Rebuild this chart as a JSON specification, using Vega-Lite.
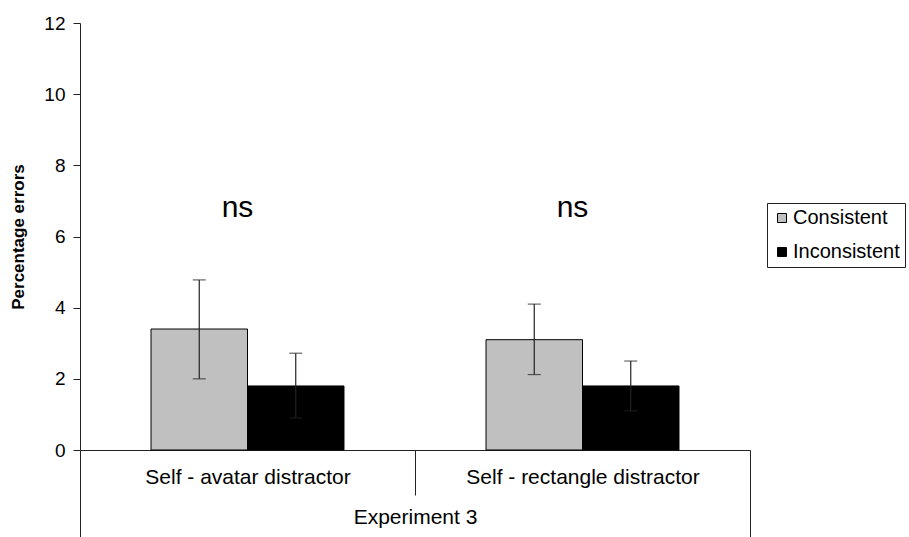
{
  "$schema": "https://vega.github.io/schema/vega-lite/v6.json",
  "autosize": "none",
  "width": 670,
  "height": 427,
  "padding": {"left": 80, "top": 23, "right": 159, "bottom": 87},
  "config": {
    "font": "Liberation Sans",
    "view": {"stroke": null},
    "axis": {"labelColor": "black", "titleColor": "black", "domainColor": "#222", "tickColor": "#222", "grid": false}
  },
  "datasets": {
    "bars": [
      {"group": "Self - avatar distractor", "cond": "Consistent", "value": 3.4, "lo": 2.0, "hi": 4.78},
      {"group": "Self - avatar distractor", "cond": "Inconsistent", "value": 1.8, "lo": 0.9, "hi": 2.72},
      {"group": "Self - rectangle distractor", "cond": "Consistent", "value": 3.1, "lo": 2.12, "hi": 4.1},
      {"group": "Self - rectangle distractor", "cond": "Inconsistent", "value": 1.8, "lo": 1.1, "hi": 2.5}
    ],
    "notes": [
      {"group": "Self - avatar distractor", "label": "ns", "y": 6.8},
      {"group": "Self - rectangle distractor", "label": "ns", "y": 6.8}
    ]
  },
  "layer": [
    {
      "data": {"name": "bars"},
      "mark": {"type": "bar", "stroke": "black", "strokeWidth": 1},
      "encoding": {
        "x": {
          "field": "group", "type": "nominal", "sort": null,
          "scale": {"paddingInner": 0, "paddingOuter": 0},
          "axis": {
            "title": "Experiment 3", "titleFontSize": 21, "titleFontWeight": "normal",
            "titleY": 67, "titleBaseline": "middle",
            "labelAngle": 0, "labelFontSize": 21, "labelBaseline": "middle", "labelLimit": 400,
            "tickBand": "extent",
            "tickSize": {"condition": {"test": "datum.value === 'Self - avatar distractor'", "value": 45}, "value": 90},
            "labelPadding": {"condition": {"test": "datum.value === 'Self - avatar distractor'", "value": -18}, "value": -63}
          }
        },
        "xOffset": {"field": "cond", "type": "nominal", "scale": {"paddingInner": 0, "paddingOuter": 0.736}},
        "y": {
          "field": "value", "type": "quantitative",
          "scale": {"domain": [0, 12], "nice": false, "zero": true},
          "axis": {
            "title": "Percentage errors", "titleFontSize": 17, "titleFontWeight": "bold", "titlePadding": 16,
            "values": [0, 2, 4, 6, 8, 10, 12], "labelFontSize": 19, "tickSize": 7, "labelPadding": 8
          }
        },
        "fill": {
          "field": "cond", "type": "nominal",
          "scale": {"domain": ["Consistent", "Inconsistent"], "range": ["#c0c0c0", "#000000"]},
          "legend": {
            "title": null, "orient": "none", "legendX": 687, "legendY": 180,
            "fillColor": "white", "strokeColor": "#222", "padding": 5,
            "symbolType": "square", "symbolSize": 81, "symbolStrokeColor": "black", "symbolStrokeWidth": 1,
            "labelFontSize": 20, "labelColor": "black", "rowPadding": 14, "labelOffset": 1
          }
        }
      }
    },
    {
      "data": {"name": "bars"},
      "mark": {"type": "rule", "color": "#222", "strokeWidth": 1.2},
      "encoding": {
        "x": {"field": "group", "type": "nominal", "sort": null},
        "xOffset": {"field": "cond", "type": "nominal"},
        "y": {"field": "lo", "type": "quantitative"},
        "y2": {"field": "hi"}
      }
    },
    {
      "data": {"name": "bars"},
      "mark": {"type": "tick", "color": "#222", "thickness": 1.2, "size": 13, "orient": "horizontal"},
      "encoding": {
        "x": {"field": "group", "type": "nominal", "sort": null},
        "xOffset": {"field": "cond", "type": "nominal"},
        "y": {"field": "hi", "type": "quantitative"}
      }
    },
    {
      "data": {"name": "bars"},
      "mark": {"type": "tick", "color": "#222", "thickness": 1.2, "size": 13, "orient": "horizontal"},
      "encoding": {
        "x": {"field": "group", "type": "nominal", "sort": null},
        "xOffset": {"field": "cond", "type": "nominal"},
        "y": {"field": "lo", "type": "quantitative"}
      }
    },
    {
      "data": {"name": "notes"},
      "mark": {"type": "text", "fontSize": 30, "color": "black", "baseline": "middle", "dx": -10},
      "encoding": {
        "x": {"field": "group", "type": "nominal", "sort": null},
        "y": {"field": "y", "type": "quantitative"},
        "text": {"field": "label"}
      }
    }
  ]
}
